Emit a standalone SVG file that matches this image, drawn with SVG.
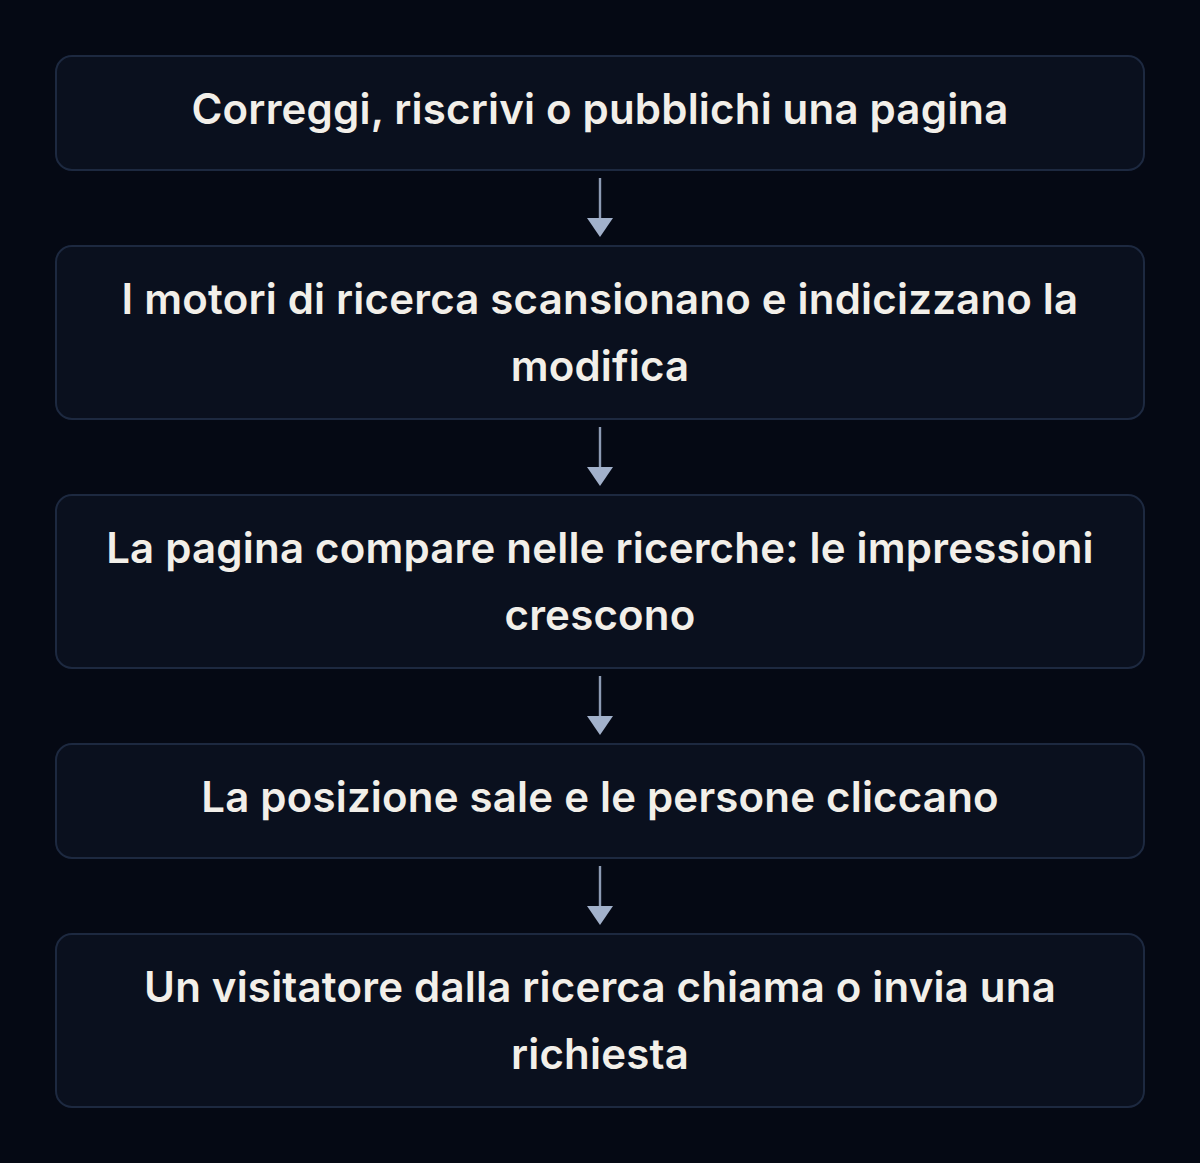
<svg xmlns="http://www.w3.org/2000/svg" width="1200" height="1163" viewBox="0 0 1200 1163">
<defs>
<style>
.box{fill:#0a101e;stroke:#1d2940;stroke-width:2}
.t{font-family:Inter,"Noto Sans","Liberation Sans",sans-serif;font-size:42px;font-weight:600;letter-spacing:0.2px;fill:#f2efe9;text-anchor:middle}
.ln{stroke:#8d9bb4;stroke-width:2.4;fill:none}
.hd{fill:#a2b1cb}
</style>
</defs>
<rect x="0" y="0" width="1200" height="1163" fill="#050914"/>
<g id="connectors">
<line class="ln" x1="600" y1="178" x2="600" y2="220"/><polygon class="hd" points="587,218 613,218 600,237"/>
<line class="ln" x1="600" y1="427" x2="600" y2="469"/><polygon class="hd" points="587,467 613,467 600,486"/>
<line class="ln" x1="600" y1="676" x2="600" y2="718"/><polygon class="hd" points="587,716 613,716 600,735"/>
<line class="ln" x1="600" y1="866" x2="600" y2="908"/><polygon class="hd" points="587,906 613,906 600,925"/>
</g>
<g id="node1"><rect class="box" x="56" y="56" width="1088" height="114" rx="16"/><text class="t" x="600" y="124">Correggi, riscrivi o pubblichi una pagina</text></g>
<g id="node2"><rect class="box" x="56" y="246" width="1088" height="173" rx="16"/><text class="t" x="600" y="314">I motori di ricerca scansionano e indicizzano la</text><text class="t" x="600" y="381">modifica</text></g>
<g id="node3"><rect class="box" x="56" y="495" width="1088" height="173" rx="16"/><text class="t" x="600" y="563">La pagina compare nelle ricerche: le impressioni</text><text class="t" x="600" y="630">crescono</text></g>
<g id="node4"><rect class="box" x="56" y="744" width="1088" height="114" rx="16"/><text class="t" x="600" y="812">La posizione sale e le persone cliccano</text></g>
<g id="node5"><rect class="box" x="56" y="934" width="1088" height="173" rx="16"/><text class="t" x="600" y="1002">Un visitatore dalla ricerca chiama o invia una</text><text class="t" x="600" y="1069">richiesta</text></g>
</svg>
